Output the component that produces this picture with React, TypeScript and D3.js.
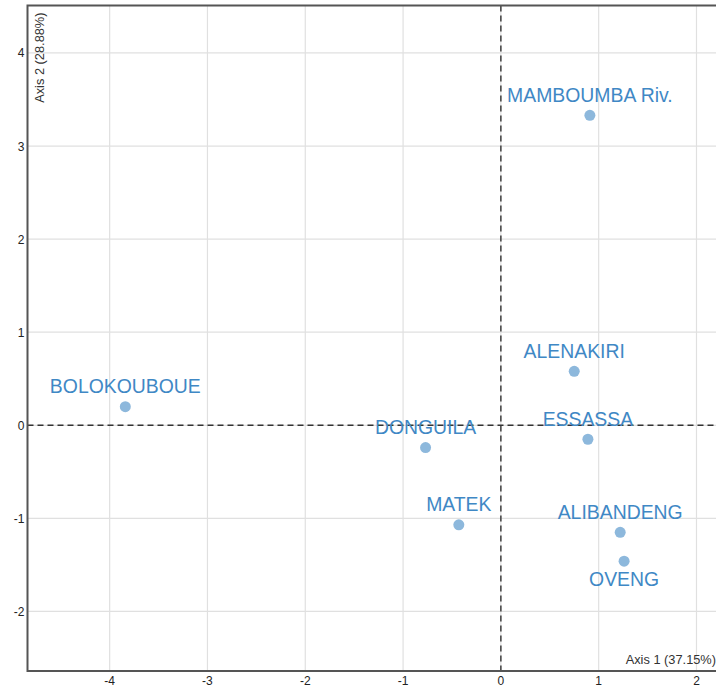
import React, { useEffect, useRef } from "react";
import * as d3 from "d3";

const sites = [
  "MAMBOUMBA Riv.",
  "BOLOKOUBOUE",
  "ALENAKIRI",
  "DONGUILA",
  "ESSASSA",
  "MATEK",
  "ALIBANDENG",
  "OVENG",
];
const axis1 = [0.91, -3.84, 0.75, -0.77, 0.89, -0.43, 1.22, 1.26];
const axis2 = [3.33, 0.2, 0.58, -0.24, -0.15, -1.07, -1.15, -1.46];
const labelsBelow = ["OVENG"];
const xTicks = [-4, -3, -2, -1, 0, 1, 2];
const yTicks = [-2, -1, 0, 1, 2, 3, 4];
const xTitle = "Axis 1 (37.15%)";
const yTitle = "Axis 2 (28.88%)";

const W = 716;
const H = 687;

const PcaChart: React.FC = () => {
  const svgRef = useRef<SVGSVGElement>(null);

  useEffect(() => {
    const svg = d3.select(svgRef.current);
    svg.selectAll("*").remove();

    const margin = { top: 5.5, right: -2, bottom: 16, left: 27.5 };

    const x = d3
      .scaleLinear()
      .domain([-4.84, 2.22])
      .range([margin.left, W - margin.right]);
    const y = d3
      .scaleLinear()
      .domain([-2.64, 4.51])
      .range([H - margin.bottom, margin.top]);

    const font = "Arial, 'Liberation Sans', sans-serif";

    // grid
    svg
      .append("g")
      .selectAll("line")
      .data(xTicks)
      .enter()
      .append("line")
      .attr("x1", (d) => x(d))
      .attr("x2", (d) => x(d))
      .attr("y1", y.range()[1])
      .attr("y2", y.range()[0])
      .attr("stroke", "#e0e0e0")
      .attr("stroke-width", 1.2);
    svg
      .append("g")
      .selectAll("line")
      .data(yTicks)
      .enter()
      .append("line")
      .attr("x1", x.range()[0])
      .attr("x2", x.range()[1])
      .attr("y1", (d) => y(d))
      .attr("y2", (d) => y(d))
      .attr("stroke", "#e0e0e0")
      .attr("stroke-width", 1.2);

    // zero lines
    svg
      .append("line")
      .attr("x1", x(0))
      .attr("x2", x(0))
      .attr("y1", y.range()[1])
      .attr("y2", y.range()[0])
      .attr("stroke", "#333")
      .attr("stroke-width", 1.4)
      .attr("stroke-dasharray", "6,4");
    svg
      .append("line")
      .attr("x1", x.range()[0])
      .attr("x2", x.range()[1])
      .attr("y1", y(0))
      .attr("y2", y(0))
      .attr("stroke", "#333")
      .attr("stroke-width", 1.4)
      .attr("stroke-dasharray", "6,4");

    // frame
    svg
      .append("path")
      .attr(
        "d",
        `M${x.range()[1]},${y.range()[1]}H${x.range()[0]}V${y.range()[0]}H${x.range()[1]}`
      )
      .attr("fill", "none")
      .attr("stroke", "#555")
      .attr("stroke-width", 2);

    // tick labels
    svg
      .append("g")
      .selectAll("text")
      .data(xTicks)
      .enter()
      .append("text")
      .attr("x", (d) => x(d))
      .attr("y", H - margin.bottom + 14)
      .attr("text-anchor", "middle")
      .attr("font-family", font)
      .attr("font-size", 12)
      .attr("fill", "#222")
      .text((d) => d);
    svg
      .append("g")
      .selectAll("text")
      .data(yTicks)
      .enter()
      .append("text")
      .attr("x", margin.left - 3)
      .attr("y", (d) => y(d) + 4.5)
      .attr("text-anchor", "end")
      .attr("font-family", font)
      .attr("font-size", 12)
      .attr("fill", "#222")
      .text((d) => d);

    // axis titles
    svg
      .append("text")
      .attr("x", W)
      .attr("y", H - margin.bottom - 7)
      .attr("text-anchor", "end")
      .attr("font-family", font)
      .attr("font-size", 12.8)
      .attr("fill", "#333")
      .text(xTitle);
    svg
      .append("text")
      .attr("transform", `translate(${margin.left + 16}, ${margin.top + 7}) rotate(-90)`)
      .attr("text-anchor", "end")
      .attr("font-family", font)
      .attr("font-size", 12.8)
      .attr("fill", "#333")
      .text(yTitle);

    const pts = sites.map((s, i) => ({ s, a: axis1[i], b: axis2[i] }));

    svg
      .append("g")
      .selectAll("circle")
      .data(pts)
      .enter()
      .append("circle")
      .attr("cx", (d) => x(d.a))
      .attr("cy", (d) => y(d.b))
      .attr("r", 5.5)
      .attr("fill", "#8db8dc");

    svg
      .append("g")
      .selectAll("text")
      .data(pts)
      .enter()
      .append("text")
      .attr("x", (d) => x(d.a))
      .attr("y", (d) =>
        labelsBelow.includes(d.s) ? y(d.b) + 25 : y(d.b) - 13.5
      )
      .attr("text-anchor", "middle")
      .attr("font-family", font)
      .attr("font-size", 19.4)
      .attr("fill", "#3f88c5")
      .text((d) => d.s);
  }, []);

  return (
    <svg
      ref={svgRef}
      width={W}
      height={H}
      style={{ position: "absolute", left: 0, top: 0, background: "#fff" }}
    />
  );
};

export default function App() {
  return <PcaChart />;
}
